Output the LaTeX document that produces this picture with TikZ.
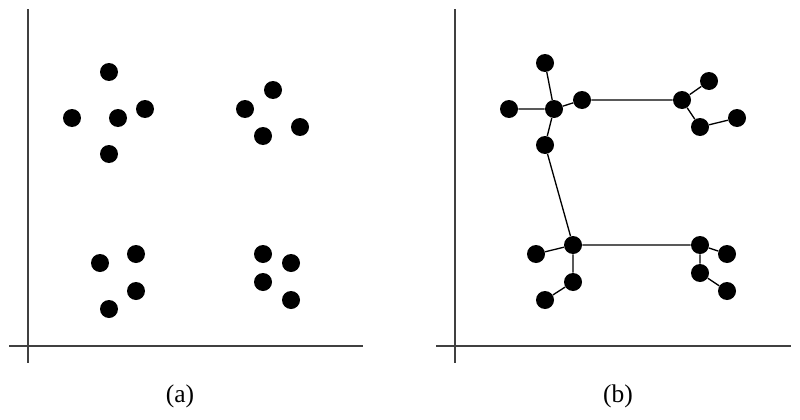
\documentclass[tikz,border=0pt]{standalone}
\usepackage{fontspec}
\setmainfont{Liberation Serif}
\tikzset{
    dot/.style={circle, fill=black, inner sep=0pt, minimum size=0.36cm},
    axis/.style={black!75, line width=0.7pt},
    link/.style={black, line width=0.75pt},
}
\begin{document}
\begin{tikzpicture}[x=0.02cm, y=-0.02cm]
    \useasboundingbox (0, 0) rectangle (800, 419);
    % axes
    \draw [axis] (28, 9) -- (28, 363);
    \draw [axis] (9, 346) -- (363, 346);
    \draw [axis] (455, 9) -- (455, 363);
    \draw [axis] (436, 346) -- (791, 346);

    % (a) points only
    \foreach \x/\y/\name in {
        109/72/a1,  72/118/a2,  118/118/a3, 145/109/a4, 109/154/a5,
        273/90/a6,  245/109/a7, 263/136/a8, 300/127/a9,
        100/263/a10, 136/254/a11, 136/291/a12, 109/309/a13,
        263/254/a14, 291/263/a15, 263/282/a16, 291/300/a17} {
        \node [dot] (\name) at (\x, \y) {};
    }

    % (b) points joined
    \foreach \x/\y/\name in {
        545/63/b1,  509/109/b2, 554/109/b3, 582/100/b4, 545/145/b5,
        682/100/b6, 709/81/b7,  700/127/b8, 737/118/b9,
        573/245/b10, 536/254/b11, 573/282/b12, 545/300/b13,
        700/245/b14, 727/254/b15, 700/273/b16, 727/291/b17} {
        \node [dot] (\name) at (\x, \y) {};
    }
    \draw [link] (b1) -- (b3) -- (b2);
    \draw [link] (b3) -- (b4) -- (b6) -- (b8) -- (b9);
    \draw [link] (b6) -- (b7);
    \draw [link] (b3) -- (b5) -- (b10) -- (b14) -- (b16) -- (b17);
    \draw [link] (b14) -- (b15);
    \draw [link] (b11) -- (b10) -- (b12) -- (b13);

    \node [font=\fontsize{14.5}{17}\selectfont] (capa) at (180, 396) {(a)};
    \node [font=\fontsize{14.5}{17}\selectfont] (capb) at (618, 396) {(b)};
\end{tikzpicture}
\end{document}
